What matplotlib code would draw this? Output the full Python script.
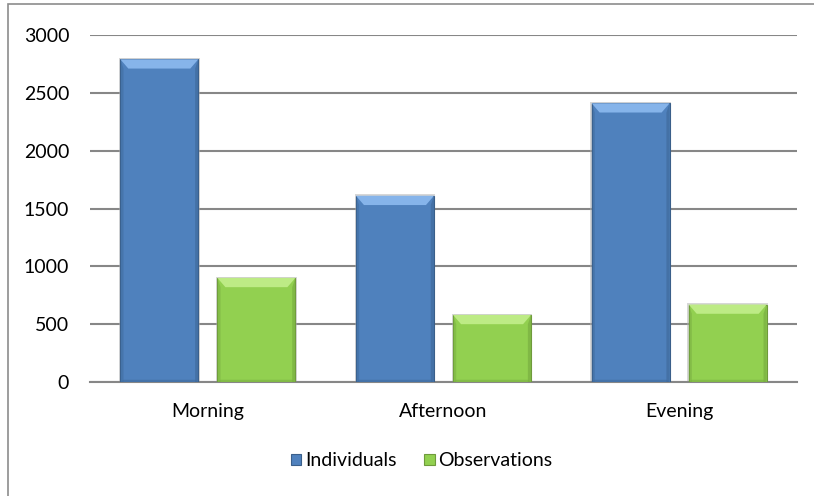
import numpy as np
import matplotlib.pyplot as plt
from matplotlib.patches import Polygon, Rectangle

periods = ['Morning', 'Afternoon', 'Evening']
individuals = [2790, 1610, 2410]
observations = [900, 580, 670]
series_names = ['Individuals', 'Observations']
yticks = [0, 500, 1000, 1500, 2000, 2500, 3000]

plt.rcParams['font.family'] = ['Lato', 'DejaVu Sans']

fig = plt.figure(figsize=(8.14, 4.96), dpi=100)
ax = fig.add_axes([0.1106, 0.2298, 0.8685, 0.6996])

x = np.arange(len(periods))
width = 0.331
offset = 0.206

face = {'Individuals': '#4f81bd', 'Observations': '#92d050'}
light = {'Individuals': '#86b4ea', 'Observations': '#bdeb85'}
dark = {'Individuals': '#3d6797', 'Observations': '#75a93f'}
edge = {'Individuals': '#3a5f8a', 'Observations': '#6f9a3c'}

ax.set_xlim(-0.5, 2.5)
ax.set_ylim(0, 3000)

# bevel sizes in data units (about 8 px each way)
bx = 0.034
by = 80

for vals, shift, name in [(individuals, -offset, 'Individuals'),
                          (observations, offset, 'Observations')]:
    bars = ax.bar(x + shift, vals, width, color=face[name], edgecolor=edge[name],
                  linewidth=0.8, zorder=3, label=name)
    for xc, v in zip(x + shift, vals):
        l, r = xc - width / 2, xc + width / 2
        # soft shadow
        ax.add_patch(Rectangle((l - 0.006, 0), width + 0.012, v + 12, color='#b0b0b0',
                               alpha=0.5, zorder=2, lw=0))
        # top bevel (light)
        ax.add_patch(Polygon([(l, v), (r, v), (r - bx, v - by), (l + bx, v - by)],
                             closed=True, color=light[name], lw=0, zorder=4))
        # side bevels (dark)
        ax.add_patch(Polygon([(l, v), (l + bx * 0.4, v - by), (l + bx * 0.4, 0), (l, 0)],
                             closed=True, color=dark[name], lw=0, zorder=4, alpha=0.45))
        ax.add_patch(Polygon([(r, v), (r - bx * 0.4, v - by), (r - bx * 0.4, 0), (r, 0)],
                             closed=True, color=dark[name], lw=0, zorder=4, alpha=0.6))
        ax.add_patch(Polygon([(l, 0), (r, 0), (r - bx * 0.4, by * 0.25), (l + bx * 0.4, by * 0.25)],
                             closed=True, color=dark[name], lw=0, zorder=4, alpha=0.5))

ax.set_yticks(yticks)
ax.set_yticklabels([str(t) for t in yticks])
ax.set_xticks(x)
ax.set_xticklabels(periods)
ax.tick_params(axis='y', length=0, pad=15, labelsize=14)
ax.tick_params(axis='x', length=0, pad=15, labelsize=14)
ax.yaxis.grid(True, color='#878787', linewidth=1.5, zorder=1)
ax.set_axisbelow(True)
for s in ['top', 'right', 'left']:
    ax.spines[s].set_visible(False)
ax.spines['bottom'].set_color('#878787')
ax.spines['bottom'].set_linewidth(1.5)

leg = ax.legend(loc='center', bbox_to_anchor=(0.469, -0.227), ncol=2, frameon=False,
                fontsize=14, handlelength=0.55, handleheight=0.55, handletextpad=0.2,
                columnspacing=1.4)

# chart frame
fig.add_artist(Rectangle((8 / 814, -0.1), 1.2, 1 - 4 / 496 + 0.1, transform=fig.transFigure,
                         fill=False, edgecolor='#8c8c8c', linewidth=1.2))

fig.savefig('out.png', dpi=100)
